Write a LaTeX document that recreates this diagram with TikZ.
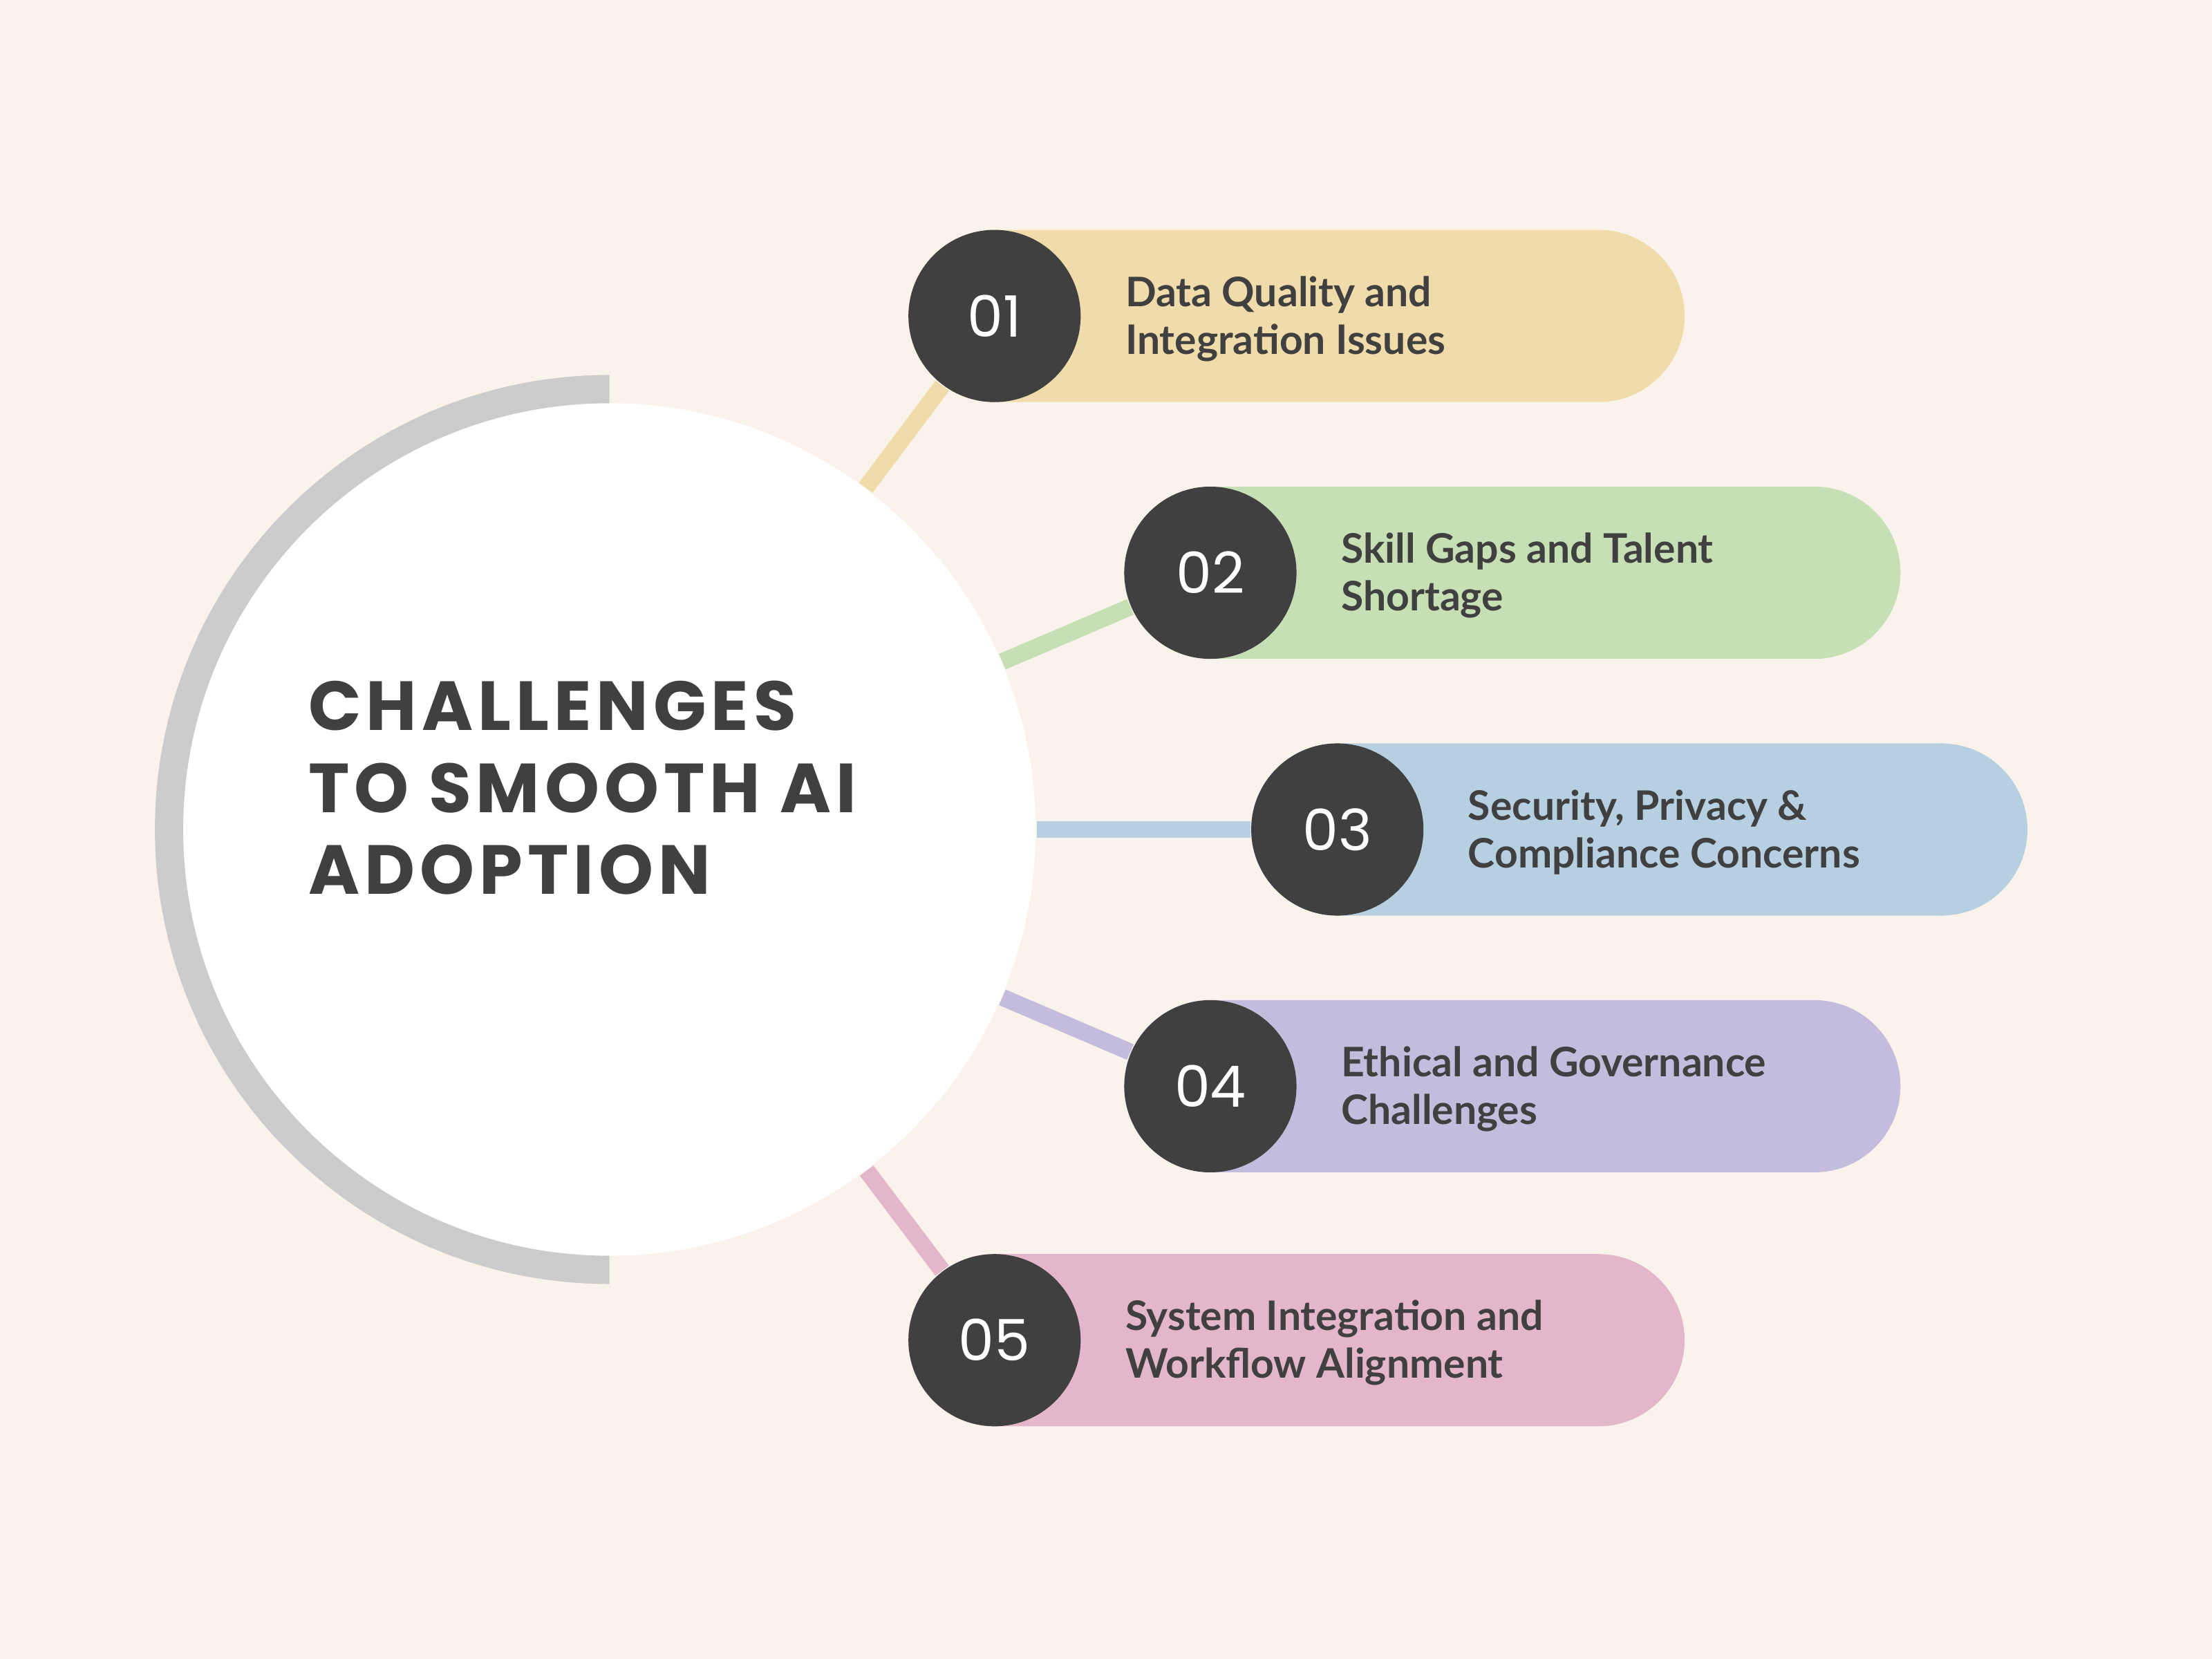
\documentclass[tikz,border=0pt]{standalone}
\usepackage{fontspec}
\usetikzlibrary{positioning}
\newfontfamily\labelfont{Lato}
\newfontfamily\titlefont[LetterSpace=7]{Poppins}
\newfontfamily\numfont{Poppins}
\definecolor{bg}{HTML}{FAF3EC}
\definecolor{ink}{HTML}{404040}
\definecolor{ringgray}{HTML}{CCCCCC}
\definecolor{yel}{HTML}{F0DCAA}
\definecolor{grn}{HTML}{C6DFB5}
\definecolor{blu}{HTML}{B6CFE1}
\definecolor{pur}{HTML}{C3BCDC}
\definecolor{pnk}{HTML}{E4B6C9}
\tikzset{
	hubnode/.style={circle, fill=white, minimum size=6.04cm, inner sep=0},
	badge/.style={circle, fill=ink, minimum size=1.22cm, inner sep=0, text=white, font=\numfont\fontsize{11.5}{12}\selectfont},
	pill/.style={rectangle, rounded corners=0.61cm, minimum width=5.5cm, minimum height=1.22cm, inner sep=0},
	link/.style={line width=0.12cm},
	ring/.style={line width=0.2cm, draw=ringgray},
	tag/.style={font=\labelfont\bfseries\fontsize{8.2}{9.6}\selectfont, text=ink, align=left, inner sep=0},
	headline/.style={font=\titlefont\bfseries\fontsize{14}{16.5}\selectfont, text=ink, align=left, inner sep=0}
}
\begin{document}
\begin{tikzpicture}[x=0.01cm, y=-0.01cm, line join=round]
	\fill[bg] (0,0) rectangle (1568,1176);
	% hub and ring
	\node[hubnode] (hub) at (432,588) {};
	\draw[ring] ([yshift=3.12cm]hub.center) arc[start angle=90, end angle=270, radius=3.12cm];
	\node[headline, anchor=north west] (title) at (218,482) {CHALLENGES\\TO SMOOTH AI\\ADOPTION};
	% items
	\foreach \n/\x/\y/\col/\txt in {
		01/705/224/yel/{Data Quality and\\Integration Issues},
		02/858/406/grn/{Skill Gaps and Talent\\Shortage},
		03/948/588/blu/{Security, Privacy \&\\Compliance Concerns},
		04/858/770/pur/{Ethical and Governance\\Challenges},
		05/705/950/pnk/{System Integration and\\Workflow Alignment}}
	{
		\node[pill, fill=\col] (p\n) at ({\x+214},\y) {};
		\node[badge] (b\n) at (\x,\y) {\n};
		\draw[link, \col] (hub) -- (b\n);
		\node[tag, right=0.92cm of b\n.center, yshift=-0.02cm] (t\n) {\txt};
	}
\end{tikzpicture}
\end{document}
